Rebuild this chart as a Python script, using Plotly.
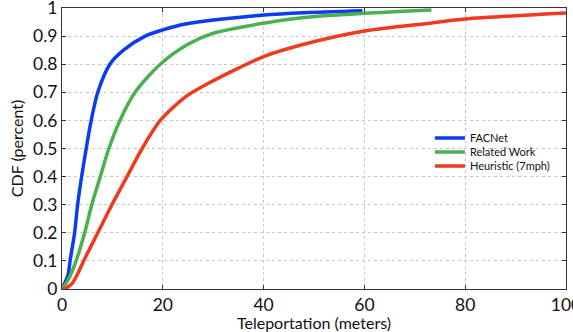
import plotly.graph_objects as go

# Data (CDF of teleportation distance)
fac_x = [0, 0.5, 1.2, 1.6, 2.5, 3.1, 3.9, 4.8, 5.8, 7.1, 9.5, 12.2, 16.5, 20, 24.5, 30, 40, 48, 59.6]
fac_y = [0, 0.02, 0.05, 0.1, 0.2, 0.3, 0.4, 0.5, 0.6, 0.7, 0.8, 0.85, 0.9, 0.922, 0.943, 0.957, 0.975, 0.983, 0.99]

rel_x = [0, 0.8, 1.7, 2.8, 4.5, 5.9, 7.6, 9.3, 11.5, 14.5, 19.5, 25, 30, 40, 48, 60, 73.3]
rel_y = [0, 0.02, 0.05, 0.1, 0.2, 0.3, 0.4, 0.5, 0.6, 0.7, 0.8, 0.871, 0.91, 0.946, 0.966, 0.981, 0.993]

heu_x = [0, 1, 2.0, 3.0, 4.3, 7.1, 9.9, 12.9, 15.9, 19.5, 24.5, 28.4, 40, 48, 60, 73, 80, 100]
heu_y = [0, 0.005, 0.02, 0.05, 0.1, 0.2, 0.3, 0.4, 0.5, 0.6, 0.684, 0.726, 0.827, 0.871, 0.918, 0.946, 0.961, 0.982]

names = ["FACNet", "Related Work", "Heuristic (7mph)"]
colors = ["#0a3cf5", "#4caf50", "#ee3a1e"]

x_ticks = [0, 20, 40, 60, 80, 100]
y_ticks = [0, 0.1, 0.2, 0.3, 0.4, 0.5, 0.6, 0.7, 0.8, 0.9, 1]
y_ticktext = ["0", "0.1", "0.2", "0.3", "0.4", "0.5", "0.6", "0.7", "0.8", "0.9", "1"]

legend_ids = ["legend", "legend2", "legend3"]
legend_y = [0.537, 0.4875, 0.4377]

fig = go.Figure()
for xs, ys, n, c, lg in zip([fac_x, rel_x, heu_x], [fac_y, rel_y, heu_y], names, colors, legend_ids):
    fig.add_trace(go.Scatter(x=xs, y=ys, mode="lines", name=n, legend=lg,
                             line=dict(color=c, width=3.5, shape="spline", smoothing=0.8)))

FONT = "Lato"
axis_common = dict(
    showgrid=True, gridcolor="#c8c8c8", griddash="dot", gridwidth=1,
    showline=True, linecolor="#333333", linewidth=1, mirror="ticks",
    ticks="inside", ticklen=4, tickcolor="#333333",
    zeroline=False, automargin=False, ticklabeloverflow="allow",
    tickfont=dict(family=FONT, size=17.5, color="#111111"),
    title_font=dict(family=FONT, size=16, color="#111111"),
)

fig.update_xaxes(range=[0, 100], tickvals=x_ticks, title_text="Teleportation (meters)",
                 title_standoff=0, **axis_common)
fig.update_yaxes(range=[0, 1], tickvals=y_ticks, ticktext=y_ticktext, title_text="CDF (percent)",
                 title_standoff=5, **axis_common)

legend_common = dict(xanchor="left", yanchor="middle", bgcolor="rgba(0,0,0,0)", borderwidth=0,
                     font=dict(family=FONT, size=11, color="#111111"))
layout_legends = {}
for lg, ly in zip(legend_ids, legend_y):
    layout_legends[lg] = dict(x=0.730, y=ly, **legend_common)

fig.update_layout(
    width=573, height=332,
    margin=dict(l=62, r=7, t=8, b=43),
    plot_bgcolor="white", paper_bgcolor="white",
    showlegend=True,
    **layout_legends,
)

fig.write_html("out.html", config={"displayModeBar": False},
               post_script="document.body.style.margin='0px';document.body.style.overflow='hidden';")
